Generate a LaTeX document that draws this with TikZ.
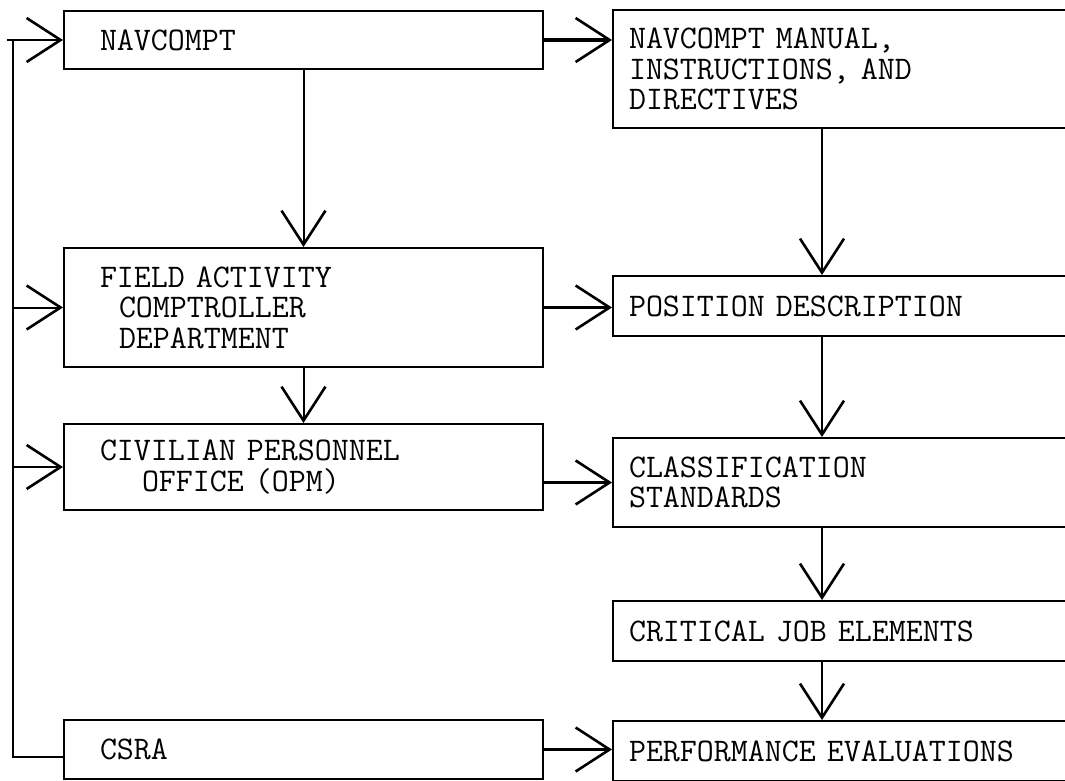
\documentclass[tikz,border=0pt]{standalone}
\usepackage{fontspec}
\usetikzlibrary{arrows.meta}

\begin{document}
\begin{tikzpicture}[x=1pt, y=-1pt,
  box/.style={draw, line width=2pt, anchor=north west, align=left, inner ysep=4pt,
    font=\fontsize{33}{30.5}\selectfont\ttfamily\addfontfeatures{FakeBold=1.2}},
  lbox/.style={box, inner xsep=36pt, text width=407pt},
  rbox/.style={box, inner xsep=16pt, text width=438pt},
  wire/.style={line width=2pt},
  flow/.style={wire, -{Straight Barb[length=34pt,width=44pt,line width=2.6pt]}},
  thickflow/.style={flow, line width=3.8pt}]
\useasboundingbox (0,0) rectangle (1065,781);
\coordinate (fb) at (13,757);
\coordinate (fbt) at (7,0);
\coordinate (rc) at (822,0);

% left column
\node[lbox, minimum height=58pt] (nav) at (63,10) {NAVCOMPT};
\node[lbox, minimum height=119pt] (fld) at (63,247)
  {FIELD ACTIVITY\\\hspace*{19pt}COMPTROLLER\\\hspace*{19pt}DEPARTMENT};
\node[lbox, minimum height=86pt] (cpo) at (63,423)
  {CIVILIAN PERSONNEL\\\hspace*{42pt}OFFICE (OPM)};
\node[lbox, minimum height=59pt] (csra) at (63,719) {CSRA};

% right column
\node[rbox, minimum height=118pt] (man) at (612,9)
  {NAVCOMPT MANUAL,\\INSTRUCTIONS, AND\\DIRECTIVES};
\node[rbox, minimum height=60pt] (pos) at (612,275) {POSITION DESCRIPTION};
\node[rbox, minimum height=89pt] (cls) at (612,437) {CLASSIFICATION\\STANDARDS};
\node[rbox, minimum height=60pt] (cje) at (612,600) {CRITICAL JOB ELEMENTS};
\node[rbox, minimum height=60pt] (perf) at (612,720) {PERFORMANCE EVALUATIONS};

\draw[flow] (nav) -- (fld);
\draw[flow] (fld) -- (cpo);
\foreach \a/\b in {man/pos, pos/cls, cls/cje, cje/perf}
  \draw[flow] (\a.south -| rc) -- (\b.north -| rc);

\draw[thickflow] (nav.east) -- (nav.east -| man.west);
\draw[thickflow] (fld.east) -- (fld.east -| pos.west);
\draw[thickflow] (cpo.east |- cls.west) -- (cls.west);
\draw[thickflow] (csra.east) -- (csra.east -| perf.west);

% feedback line on the left
\draw[wire] (csra.west |- fb) -- (fb) -- (fb |- nav.west);
\draw[flow] (fbt |- nav.west) -- (nav.west);
\foreach \n in {fld, cpo}
  \draw[flow] (fb |- \n.west) -- (\n.west);
\end{tikzpicture}
\end{document}
